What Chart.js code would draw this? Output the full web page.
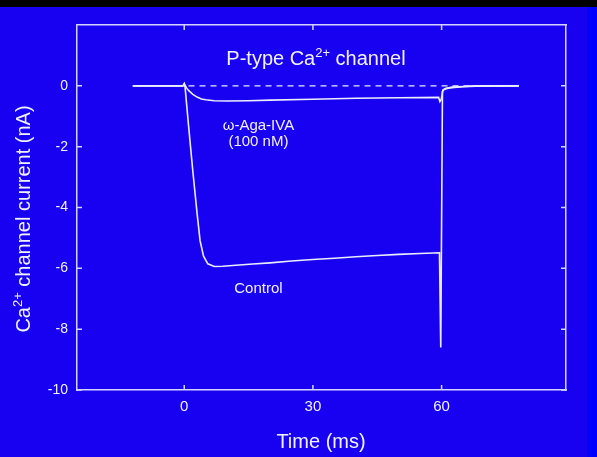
<!DOCTYPE html>
<html>
<head>
<meta charset="utf-8">
<script src="https://cdn.jsdelivr.net/npm/chart.js@4"></script>
<style>
  body { margin: 0; background: #0000ff; }
  canvas { display: block; }
</style>
</head>
<body>
<canvas id="grafik" width="597" height="457"></canvas>
<script>
// Data arus (nA) terhadap waktu (ms)
const kontrolT = [-12, -0.3, 0, 0.2, 1, 2, 3, 3.7, 4.5, 5.5, 7, 9, 12, 16, 20, 25, 30, 35, 40, 45, 50, 55, 59.5, 59.8, 60.2, 60.6, 61.5, 63, 65, 68, 78];
const kontrolI = [0, 0, 0.07, -0.05, -1.3, -2.8, -4.2, -5.1, -5.6, -5.85, -5.94, -5.93, -5.9, -5.86, -5.82, -5.76, -5.71, -5.67, -5.62, -5.58, -5.54, -5.51, -5.49, -8.6, -0.18, -0.12, -0.08, -0.05, -0.03, -0.01, 0];

const agaT = [-12, -0.3, 0, 0.5, 1, 2, 3, 4, 5, 7, 10, 15, 20, 30, 40, 50, 59.3, 59.6, 59.9, 60.3, 61, 62.5, 65, 68, 78];
const agaI = [0, 0, 0.07, -0.06, -0.15, -0.28, -0.37, -0.43, -0.46, -0.49, -0.5, -0.49, -0.47, -0.44, -0.41, -0.39, -0.38, -0.52, -0.45, -0.14, -0.08, -0.04, -0.02, 0, 0];

const nolT = [1, 78];
const nolI = [0, 0];

const tickX = [0, 30, 60];
const tickY = [-10, -8, -6, -4, -2, 0];

// Label di dalam grafik: teks, posisi waktu, posisi arus
const labelTeks = ["\u03c9-Aga-IVA", "(100 nM)", "Control"];
const labelT = [17.3, 17.3, 17.3];
const labelI = [-1.45, -1.97, -6.8];

const warnaGaris = "#ececff";
const warnaSumbu = "#d4d4ff";
const font = "'Liberation Sans', Arial, sans-serif";

function titik(t, i) {
  return t.map((v, k) => ({ x: v, y: i[k] }));
}

// Teks dengan superskrip, bagian: [teks, superskrip?]
function tulis(ctx, bagian, x, y, ukuran, align) {
  const lebar = bagian.map(b => {
    ctx.font = (b[1] ? ukuran * 0.65 : ukuran) + "px " + font;
    return ctx.measureText(b[0]).width;
  });
  const total = lebar.reduce((a, b) => a + b, 0);
  let posX = align === "center" ? x - total / 2 : x;
  ctx.textAlign = "left";
  ctx.textBaseline = "alphabetic";
  bagian.forEach((b, k) => {
    ctx.font = (b[1] ? ukuran * 0.65 : ukuran) + "px " + font;
    ctx.fillText(b[0], posX, b[1] ? y - ukuran * 0.42 : y);
    posX += lebar[k];
  });
}

const hiasan = {
  id: "hiasan",
  beforeDraw(chart) {
    const ctx = chart.ctx;
    ctx.save();
    ctx.fillStyle = "#0000ff";
    ctx.fillRect(0, 0, 597, 457);
    ctx.fillStyle = "#1800f0";
    ctx.fillRect(0, 7, 587, 450);
    ctx.fillStyle = "#000000";
    ctx.fillRect(0, 0, 597, 7);
    ctx.restore();
  },
  afterDraw(chart) {
    const ctx = chart.ctx;
    const a = chart.chartArea;
    const sx = chart.scales.x, sy = chart.scales.y;
    ctx.save();
    // tick ke dalam di keempat sisi
    ctx.strokeStyle = warnaSumbu;
    ctx.lineWidth = 1.5;
    ctx.beginPath();
    tickX.forEach(v => {
      const px = sx.getPixelForValue(v);
      ctx.moveTo(px, a.bottom); ctx.lineTo(px, a.bottom - 5);
      ctx.moveTo(px, a.top); ctx.lineTo(px, a.top + 5);
    });
    tickY.forEach(v => {
      const py = sy.getPixelForValue(v);
      ctx.moveTo(a.left, py); ctx.lineTo(a.left + 5, py);
      ctx.moveTo(a.right, py); ctx.lineTo(a.right - 5, py);
    });
    ctx.stroke();

    ctx.fillStyle = "#f2f2ff";
    // judul
    tulis(ctx, [["P-type Ca"], ["2+", true], [" channel"]], 316, 65, 20, "center");
    // judul sumbu x
    tulis(ctx, [["Time (ms)"]], 321, 448, 20, "center");
    // judul sumbu y (diputar)
    ctx.save();
    ctx.translate(30, 219);
    ctx.rotate(-Math.PI / 2);
    tulis(ctx, [["Ca"], ["2+", true], [" channel current (nA)"]], 0, 0, 20, "center");
    ctx.restore();
    // label kurva
    labelTeks.forEach((teks, k) => {
      tulis(ctx, [[teks]], sx.getPixelForValue(labelT[k]), sy.getPixelForValue(labelI[k]), 15, "center");
    });
    ctx.restore();
  }
};

new Chart(document.getElementById("grafik").getContext("2d"), {
  type: "line",
  data: {
    datasets: [
      { label: "Control", data: titik(kontrolT, kontrolI), borderColor: warnaGaris, borderWidth: 1.6, pointRadius: 0, tension: 0 },
      { label: "Aga", data: titik(agaT, agaI), borderColor: warnaGaris, borderWidth: 1.6, pointRadius: 0, tension: 0 },
      { label: "Nol", data: titik(nolT, nolI), borderColor: warnaGaris, borderWidth: 1.4, borderDash: [6, 5], pointRadius: 0 }
    ]
  },
  options: {
    responsive: false,
    animation: false,
    devicePixelRatio: 1,
    layout: { padding: { left: 0, top: 25, right: 31, bottom: 0 } },
    plugins: { legend: { display: false }, tooltip: { enabled: false } },
    scales: {
      x: {
        type: "linear", position: "bottom", min: -25, max: 89,
        afterBuildTicks: s => { s.ticks = tickX.map(v => ({ value: v })); },
        afterFit: s => { s.height = 67; },
        grid: { display: false, drawTicks: false },
        border: { color: warnaSumbu, width: 1.5 },
        ticks: { color: "#f2f2ff", padding: 8, font: { family: font, size: 15 } }
      },
      x2: {
        type: "linear", position: "top", min: -25, max: 89,
        afterFit: s => { s.height = 0; },
        grid: { display: false, drawTicks: false },
        border: { color: warnaSumbu, width: 1.5 },
        ticks: { display: false }
      },
      y: {
        type: "linear", position: "left", min: -10, max: 2,
        afterBuildTicks: s => { s.ticks = tickY.map(v => ({ value: v })); },
        afterFit: s => { s.width = 77; },
        grid: { display: false, drawTicks: false },
        border: { color: warnaSumbu, width: 1.5 },
        ticks: { color: "#f2f2ff", padding: 9, font: { family: font, size: 14 } }
      },
      y2: {
        type: "linear", position: "right", min: -10, max: 2,
        afterFit: s => { s.width = 0; },
        grid: { display: false, drawTicks: false },
        border: { color: warnaSumbu, width: 1.5 },
        ticks: { display: false }
      }
    }
  },
  plugins: [hiasan]
});
</script>
</body>
</html>
